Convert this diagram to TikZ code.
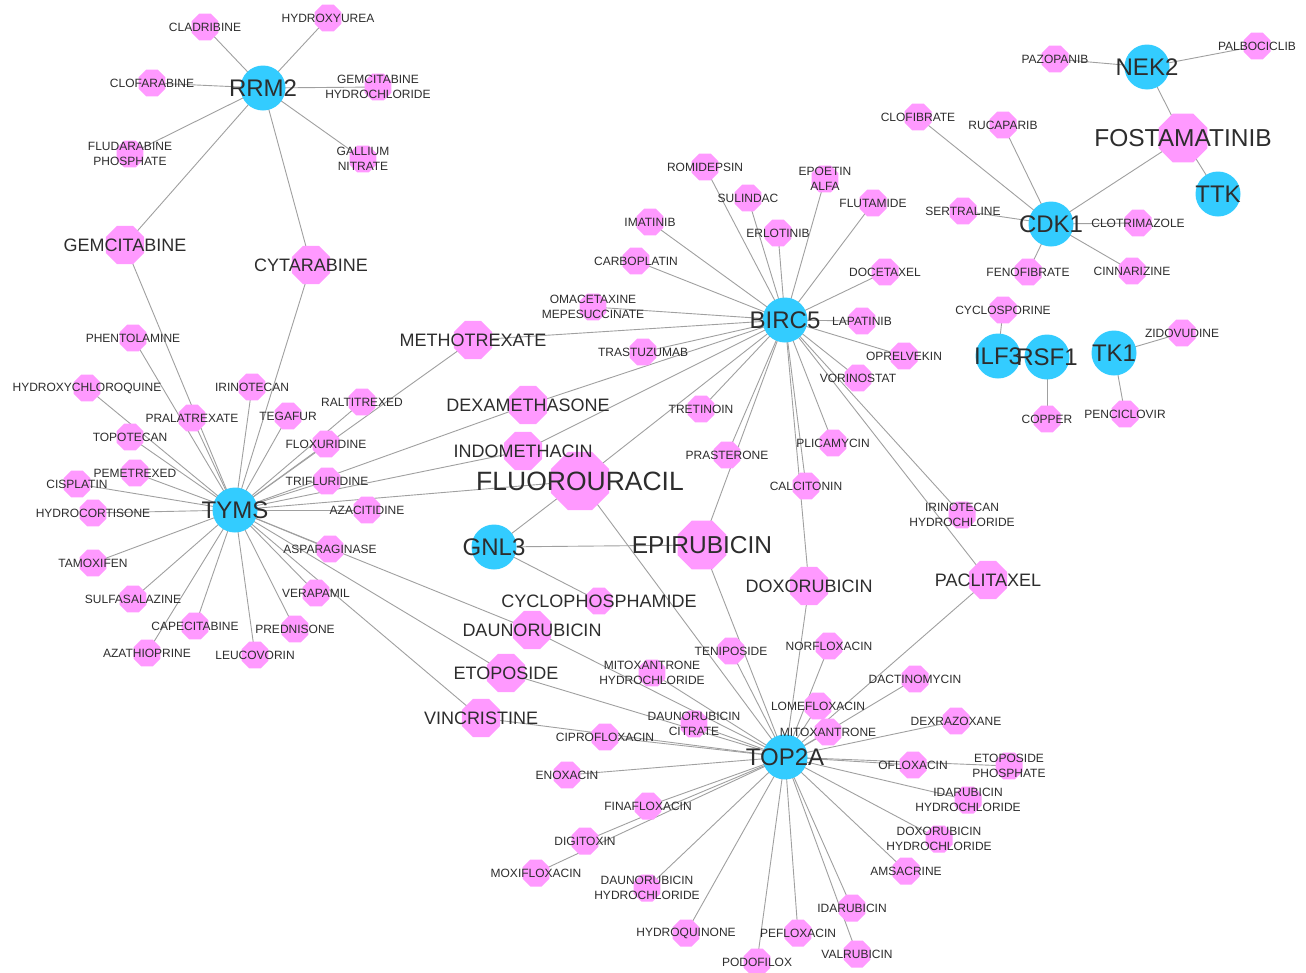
\documentclass[tikz,border=0pt]{standalone}
\usepackage{fontspec}
\setmainfont{Liberation Sans}
\usetikzlibrary{shapes.geometric}
\definecolor{geneblue}{RGB}{51,204,255}
\definecolor{drugpink}{RGB}{255,153,255}
\definecolor{edgegray}{RGB}{160,160,160}
\definecolor{txt}{RGB}{45,45,45}
\pgfdeclarelayer{bg}
\pgfdeclarelayer{fg}
\pgfsetlayers{bg,main,fg}
\newcommand{\nd}[6]{\node[#1] (#3) at (#4,#5) {};\begin{pgfonlayer}{fg}\node[#2] at (#3) {#6};\end{pgfonlayer}}
\tikzset{
  gene/.style={circle, fill=geneblue, minimum size=45pt, inner sep=0pt},
  oct/.style={regular polygon, regular polygon sides=8, fill=drugpink, inner sep=0pt},
  sd/.style={oct, minimum size=29.2pt},
  md/.style={oct, minimum size=41.5pt},
  ld/.style={oct, minimum size=53pt},
  xd/.style={oct, minimum size=62.8pt},
  gt/.style={font=\fontsize{24}{28}\selectfont, text=txt, inner sep=0pt},
  st/.style={font=\fontsize{12}{15}\selectfont, align=center, text=txt, inner sep=0pt},
  mt/.style={font=\fontsize{18}{22}\selectfont, text=txt, inner sep=0pt},
  lt/.style={font=\fontsize{24.5}{28}\selectfont, text=txt, inner sep=0pt},
  xt/.style={font=\fontsize{26.5}{30}\selectfont, text=txt, inner sep=0pt},
  edge/.style={draw=edgegray, line width=0.9pt}
}
\begin{document}
\begin{tikzpicture}[x=1pt,y=-1pt]
\begin{pgfonlayer}{bg}
\fill[white] (0,0) rectangle (1306,972);
\end{pgfonlayer}
\useasboundingbox (0,0) rectangle (1306,972);
% genes
\nd{gene}{gt}{RRM2}{263}{88}{RRM2}
\nd{gene}{gt}{TYMS}{235}{510}{TYMS}
\nd{gene}{gt}{BIRC5}{785}{320}{BIRC5}
\nd{gene}{gt}{TOP2A}{785}{757}{TOP2A}
\nd{gene}{gt}{GNL3}{494}{547}{GNL3}
\nd{gene}{gt}{CDK1}{1051}{224}{CDK1}
\nd{gene}{gt}{NEK2}{1147}{67}{NEK2}
\nd{gene}{gt}{TTK}{1218}{194}{TTK}
\nd{gene}{gt}{ILF3}{998}{356}{ILF3}
\nd{gene}{gt}{RSF1}{1047}{357}{RSF1}
\nd{gene}{gt}{TK1}{1114}{353}{TK1}
% RRM2 drugs
\nd{sd}{st}{cladribine}{205}{27}{CLADRIBINE}
\nd{sd}{st}{hydroxyurea}{328}{18}{HYDROXYUREA}
\nd{sd}{st}{clofarabine}{152}{83}{CLOFARABINE}
\nd{sd}{st}{gemhcl}{378}{87}{GEMCITABINE\\HYDROCHLORIDE}
\nd{sd}{st}{fludarabine}{130}{154}{FLUDARABINE\\PHOSPHATE}
\nd{sd}{st}{gallium}{363}{159}{GALLIUM\\NITRATE}
\nd{md}{mt}{gemcitabine}{125}{245}{GEMCITABINE}
\nd{md}{mt}{cytarabine}{311}{265}{CYTARABINE}
% TYMS drugs
\nd{sd}{st}{phentolamine}{133}{338}{PHENTOLAMINE}
\nd{sd}{st}{hcq}{87}{388}{HYDROXYCHLOROQUINE}
\nd{sd}{st}{irinotecan}{252}{387}{IRINOTECAN}
\nd{sd}{st}{raltitrexed}{362}{402}{RALTITREXED}
\nd{sd}{st}{pralatrexate}{192}{418}{PRALATREXATE}
\nd{sd}{st}{tegafur}{288}{416}{TEGAFUR}
\nd{sd}{st}{topotecan}{130}{437}{TOPOTECAN}
\nd{sd}{st}{floxuridine}{326}{444}{FLOXURIDINE}
\nd{sd}{st}{pemetrexed}{135}{473}{PEMETREXED}
\nd{sd}{st}{trifluridine}{327}{481}{TRIFLURIDINE}
\nd{sd}{st}{cisplatin}{77}{484}{CISPLATIN}
\nd{sd}{st}{hydrocortisone}{93}{513}{HYDROCORTISONE}
\nd{sd}{st}{azacitidine}{367}{510}{AZACITIDINE}
\nd{sd}{st}{asparaginase}{330}{549}{ASPARAGINASE}
\nd{sd}{st}{tamoxifen}{93}{563}{TAMOXIFEN}
\nd{sd}{st}{verapamil}{316}{593}{VERAPAMIL}
\nd{sd}{st}{sulfasalazine}{133}{599}{SULFASALAZINE}
\nd{sd}{st}{capecitabine}{195}{626}{CAPECITABINE}
\nd{sd}{st}{prednisone}{295}{629}{PREDNISONE}
\nd{sd}{st}{azathioprine}{147}{653}{AZATHIOPRINE}
\nd{sd}{st}{leucovorin}{255}{655}{LEUCOVORIN}
% shared medium / large drugs
\nd{md}{mt}{methotrexate}{473}{340}{METHOTREXATE}
\nd{md}{mt}{dexamethasone}{528}{405}{DEXAMETHASONE}
\nd{md}{mt}{indomethacin}{523}{451}{INDOMETHACIN}
\nd{xd}{xt}{fluorouracil}{580}{481}{FLUOROURACIL}
\nd{ld}{lt}{epirubicin}{702}{545}{EPIRUBICIN}
\nd{md}{mt}{doxorubicin}{809}{586}{DOXORUBICIN}
\nd{sd}{mt}{cyclophosphamide}{599}{601}{CYCLOPHOSPHAMIDE}
\nd{md}{mt}{daunorubicin}{532}{630}{DAUNORUBICIN}
\nd{md}{mt}{etoposide}{506}{673}{ETOPOSIDE}
\nd{md}{mt}{vincristine}{481}{718}{VINCRISTINE}
\nd{md}{mt}{paclitaxel}{988}{580}{PACLITAXEL}
% BIRC5 drugs
\nd{sd}{st}{romidepsin}{705}{167}{ROMIDEPSIN}
\nd{sd}{st}{epoetin}{825}{179}{EPOETIN\\ALFA}
\nd{sd}{st}{sulindac}{748}{198}{SULINDAC}
\nd{sd}{st}{flutamide}{873}{203}{FLUTAMIDE}
\nd{sd}{st}{imatinib}{650}{222}{IMATINIB}
\nd{sd}{st}{erlotinib}{778}{233}{ERLOTINIB}
\nd{sd}{st}{carboplatin}{636}{261}{CARBOPLATIN}
\nd{sd}{st}{docetaxel}{885}{272}{DOCETAXEL}
\nd{sd}{st}{omacetaxine}{593}{307}{OMACETAXINE\\MEPESUCCINATE}
\nd{sd}{st}{lapatinib}{862}{321}{LAPATINIB}
\nd{sd}{st}{trastuzumab}{643}{352}{TRASTUZUMAB}
\nd{sd}{st}{oprelvekin}{904}{356}{OPRELVEKIN}
\nd{sd}{st}{vorinostat}{858}{378}{VORINOSTAT}
\nd{sd}{st}{tretinoin}{701}{409}{TRETINOIN}
\nd{sd}{st}{plicamycin}{833}{443}{PLICAMYCIN}
\nd{sd}{st}{prasterone}{727}{455}{PRASTERONE}
\nd{sd}{st}{calcitonin}{806}{486}{CALCITONIN}
\nd{sd}{st}{irinohcl}{962}{515}{IRINOTECAN\\HYDROCHLORIDE}
% right cluster
\nd{sd}{st}{pazopanib}{1055}{59}{PAZOPANIB}
\nd{sd}{st}{palbociclib}{1257}{46}{PALBOCICLIB}
\nd{sd}{st}{clofibrate}{918}{117}{CLOFIBRATE}
\nd{sd}{st}{rucaparib}{1003}{125}{RUCAPARIB}
\nd{ld}{lt}{fostamatinib}{1183}{138}{FOSTAMATINIB}
\nd{sd}{st}{sertraline}{963}{211}{SERTRALINE}
\nd{sd}{st}{clotrimazole}{1138}{223}{CLOTRIMAZOLE}
\nd{sd}{st}{fenofibrate}{1028}{272}{FENOFIBRATE}
\nd{sd}{st}{cinnarizine}{1132}{271}{CINNARIZINE}
\nd{sd}{st}{cyclosporine}{1003}{310}{CYCLOSPORINE}
\nd{sd}{st}{zidovudine}{1182}{333}{ZIDOVUDINE}
\nd{sd}{st}{copper}{1047}{419}{COPPER}
\nd{sd}{st}{penciclovir}{1125}{414}{PENCICLOVIR}
% TOP2A drugs
\nd{sd}{st}{teniposide}{731}{651}{TENIPOSIDE}
\nd{sd}{st}{norfloxacin}{829}{646}{NORFLOXACIN}
\nd{sd}{st}{mitoxhcl}{652}{673}{MITOXANTRONE\\HYDROCHLORIDE}
\nd{sd}{st}{dactinomycin}{915}{679}{DACTINOMYCIN}
\nd{sd}{st}{lomefloxacin}{818}{706}{LOMEFLOXACIN}
\nd{sd}{st}{dexrazoxane}{956}{721}{DEXRAZOXANE}
\nd{sd}{st}{dauncitrate}{694}{724}{DAUNORUBICIN\\CITRATE}
\nd{sd}{st}{mitoxantrone}{828}{732}{MITOXANTRONE}
\nd{sd}{st}{ciprofloxacin}{605}{737}{CIPROFLOXACIN}
\nd{sd}{st}{enoxacin}{567}{775}{ENOXACIN}
\nd{sd}{st}{ofloxacin}{913}{765}{OFLOXACIN}
\nd{sd}{st}{etophos}{1009}{766}{ETOPOSIDE\\PHOSPHATE}
\nd{sd}{st}{idahcl}{968}{800}{IDARUBICIN\\HYDROCHLORIDE}
\nd{sd}{st}{finafloxacin}{648}{806}{FINAFLOXACIN}
\nd{sd}{st}{doxohcl}{939}{839}{DOXORUBICIN\\HYDROCHLORIDE}
\nd{sd}{st}{digitoxin}{585}{841}{DIGITOXIN}
\nd{sd}{st}{amsacrine}{906}{871}{AMSACRINE}
\nd{sd}{st}{moxifloxacin}{536}{873}{MOXIFLOXACIN}
\nd{sd}{st}{daunhcl}{647}{888}{DAUNORUBICIN\\HYDROCHLORIDE}
\nd{sd}{st}{idarubicin}{852}{908}{IDARUBICIN}
\nd{sd}{st}{hydroquinone}{686}{933}{HYDROQUINONE}
\nd{sd}{st}{pefloxacin}{798}{933}{PEFLOXACIN}
\nd{sd}{st}{valrubicin}{857}{954}{VALRUBICIN}
\nd{sd}{st}{podofilox}{757}{962}{PODOFILOX}
% edges
\begin{pgfonlayer}{bg}
\foreach \b in {cladribine,hydroxyurea,clofarabine,gemhcl,fludarabine,gallium,gemcitabine,cytarabine}
  \draw[edge] (RRM2.center) -- (\b.center);
\foreach \b in {gemcitabine,cytarabine,phentolamine,hcq,irinotecan,raltitrexed,pralatrexate,tegafur,topotecan,floxuridine,pemetrexed,trifluridine,cisplatin,hydrocortisone,azacitidine,asparaginase,tamoxifen,verapamil,sulfasalazine,capecitabine,prednisone,azathioprine,leucovorin,methotrexate,dexamethasone,indomethacin,fluorouracil,daunorubicin,etoposide,vincristine}
  \draw[edge] (TYMS.center) -- (\b.center);
\foreach \b in {romidepsin,epoetin,sulindac,flutamide,imatinib,erlotinib,carboplatin,docetaxel,omacetaxine,lapatinib,trastuzumab,oprelvekin,vorinostat,tretinoin,plicamycin,prasterone,calcitonin,irinohcl,methotrexate,dexamethasone,indomethacin,fluorouracil,epirubicin,doxorubicin,paclitaxel}
  \draw[edge] (BIRC5.center) -- (\b.center);
\foreach \b in {fluorouracil,epirubicin,doxorubicin,paclitaxel,daunorubicin,etoposide,vincristine,teniposide,norfloxacin,mitoxhcl,lomefloxacin,dauncitrate,mitoxantrone,ciprofloxacin,enoxacin,dactinomycin,dexrazoxane,ofloxacin,etophos,idahcl,finafloxacin,doxohcl,digitoxin,amsacrine,moxifloxacin,daunhcl,idarubicin,hydroquinone,pefloxacin,valrubicin,podofilox}
  \draw[edge] (TOP2A.center) -- (\b.center);
\foreach \b in {fluorouracil,epirubicin,cyclophosphamide}
  \draw[edge] (GNL3.center) -- (\b.center);
\foreach \b in {fostamatinib,clofibrate,rucaparib,sertraline,clotrimazole,fenofibrate,cinnarizine}
  \draw[edge] (CDK1.center) -- (\b.center);
\foreach \b in {pazopanib,palbociclib,fostamatinib}
  \draw[edge] (NEK2.center) -- (\b.center);
\draw[edge] (TTK.center) -- (fostamatinib.center);
\draw[edge] (ILF3.center) -- (cyclosporine.center);
\draw[edge] (RSF1.center) -- (copper.center);
\draw[edge] (TK1.center) -- (zidovudine.center);
\draw[edge] (TK1.center) -- (penciclovir.center);
\end{pgfonlayer}
\end{tikzpicture}
\end{document}
